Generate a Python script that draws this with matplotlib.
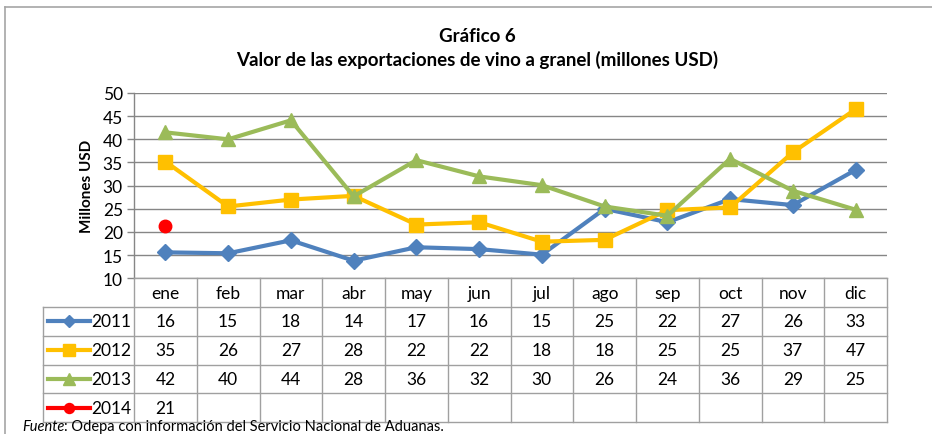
import matplotlib
matplotlib.use("Agg")
import matplotlib.pyplot as plt
from matplotlib.lines import Line2D

months = ["ene", "feb", "mar", "abr", "may", "jun", "jul", "ago", "sep", "oct", "nov", "dic"]
years = ["2011", "2012", "2013", "2014"]
v2011 = [15.6, 15.4, 18.2, 13.8, 16.7, 16.3, 15.1, 25.0, 22.1, 27.1, 25.8, 33.4]
v2012 = [35.2, 25.5, 27.0, 27.8, 21.6, 22.1, 17.9, 18.3, 24.7, 25.3, 37.2, 46.5]
v2013 = [41.5, 40.0, 44.1, 27.7, 35.5, 32.0, 30.1, 25.5, 23.5, 35.8, 28.9, 24.8]
v2014 = [21.2]
tab2011 = ["16", "15", "18", "14", "17", "16", "15", "25", "22", "27", "26", "33"]
tab2012 = ["35", "26", "27", "28", "22", "22", "18", "18", "25", "25", "37", "47"]
tab2013 = ["42", "40", "44", "28", "36", "32", "30", "26", "24", "36", "29", "25"]
tab2014 = ["21"]
yticks = [10, 15, 20, 25, 30, 35, 40, 45, 50]

series = [v2011, v2012, v2013, v2014]
tables = [tab2011, tab2012, tab2013, tab2014]
colors = ["#4F81BD", "#FFC000", "#9BBB59", "#FF0000"]
markers = ["D", "s", "^", "o"]
msizes = [8, 10, 10, 9]

plt.rcParams['font.family'] = ['Lato', 'DejaVu Sans']

W, H = 932, 435
fig = plt.figure(figsize=(W / 100, H / 100), dpi=100)

def fx(px):
    return px / W

def fy(py):
    return 1 - py / H

# outer frame
fig.add_artist(Line2D([fx(5), fx(5)], [fy(8), 0], color="#a6a6a6", lw=1.2))
fig.add_artist(Line2D([fx(5), 1], [fy(8), fy(8)], color="#a6a6a6", lw=1.2))

# titles
fig.text(fx(477), fy(37), "Gráfico 6", ha="center", va="center", fontsize=13.5, fontweight="bold")
fig.text(fx(477), fy(60), "Valor de las exportaciones de vino a granel (millones USD)",
         ha="center", va="center", fontsize=13.5, fontweight="bold")

L, R, T, B = 134, 887, 94, 279.3
ax = fig.add_axes([fx(L), fy(B), fx(R - L), (B - T) / H])
ax.set_xlim(-0.5, 11.5)
ax.set_ylim(10, 50)
ax.set_yticks(yticks)
ax.set_xticks([])
for s in ["top", "right", "bottom"]:
    ax.spines[s].set_visible(False)
ax.spines["left"].set_color("#868686")
ax.spines["left"].set_linewidth(1.0)
ax.tick_params(axis="y", colors="#868686", labelcolor="black", labelsize=12.5, length=5, width=1.0, pad=3)
ax.yaxis.grid(True, color="#868686", lw=1.0)
ax.set_axisbelow(True)
ax.set_ylabel("Millones USD", fontsize=11, fontweight="bold", labelpad=6)

x = list(range(12))
for vals, c, m, ms in zip(series, colors, markers, msizes):
    xs = x[:len(vals)]
    ax.plot(xs, vals, color=c, lw=3, marker=m, ms=ms, markeredgecolor=c, clip_on=False, zorder=3)

# data table
TL, TT, TB = 43, 279.3, 423
cw = (R - L) / 12
left_units = (L - TL) / cw
tax = fig.add_axes([fx(TL), fy(TB), fx(R - TL), (TB - TT) / H])
tax.set_xlim(-0.5 - left_units, 11.5)
tax.set_ylim(5, 0)
tax.axis("off")
gc = "#a0a0a0"
glw = 1.0
tax.plot([-0.5, 11.5], [0, 0], color=gc, lw=glw, clip_on=False)
for r in range(1, 6):
    tax.plot([-0.5 - left_units, 11.5], [r, r], color=gc, lw=glw, clip_on=False)
tax.plot([-0.5 - left_units] * 2, [1, 5], color=gc, lw=glw, clip_on=False)
for k in range(13):
    tax.plot([k - 0.5] * 2, [0, 5], color=gc, lw=glw, clip_on=False)

for i, mth in enumerate(months):
    tax.text(i, 0.5, mth, ha="center", va="center", fontsize=12.5)

x0 = -0.5 - left_units
for r, (yr, tv, c, m, ms) in enumerate(zip(years, tables, colors, markers, msizes)):
    yy = r + 1.5
    tax.plot([x0 + 5 / cw, x0 + 47 / cw], [yy, yy], color=c, lw=3, clip_on=False)
    tax.plot([x0 + 26 / cw], [yy], marker=m, color=c, ms=ms * 0.8, clip_on=False)
    tax.text(x0 + 48 / cw, yy, yr, ha="left", va="center", fontsize=12.5)
    for i, t in enumerate(tv):
        tax.text(i, yy, t, ha="center", va="center", fontsize=12.5)

fig.canvas.draw()
r = fig.canvas.get_renderer()
t1 = fig.text(fx(22), fy(427), "Fuente", ha="left", va="center", fontsize=10.5, style="italic")
bb = t1.get_window_extent(renderer=r)
fig.text(bb.x1 / W, fy(427), ": Odepa con información del Servicio Nacional de Aduanas.",
         ha="left", va="center", fontsize=10.5)

fig.savefig("out.png", dpi=100)
